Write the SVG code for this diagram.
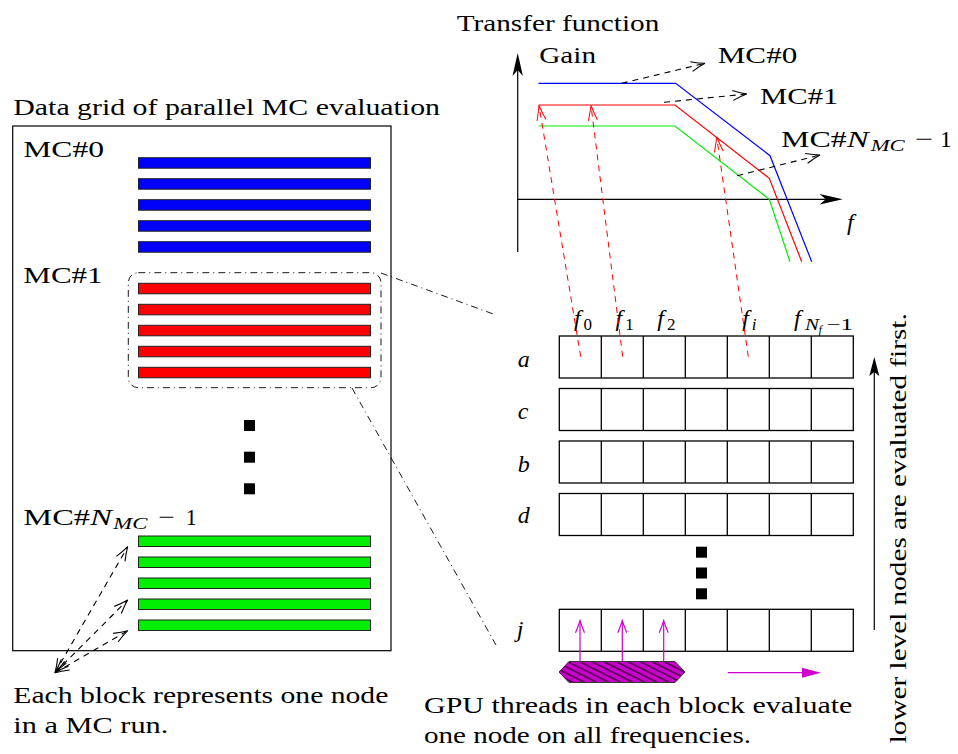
<svg xmlns="http://www.w3.org/2000/svg" width="958" height="754" viewBox="0 0 958 754">
<style>
  text { font-family: "Liberation Serif", "Times New Roman", serif; font-size: 24px; fill: #000; }
  .it { font-style: italic; }
  .sub { font-size: 17px; }
  .subsub { font-size: 12px; }
  .frame { fill: #fff; stroke: #000; stroke-width: 1.2; }
  .bar { stroke: #222; stroke-width: 1; }
  .blue { fill: #0000ff; }
  .red { fill: #ff0000; }
  .green { fill: #00ee00; }
  .cell { fill: #fff; stroke: #000; stroke-width: 1.3; }
  .dashdot { fill: none; stroke: #000; stroke-width: 0.9; stroke-dasharray: 7 4 1 4; }
  .dash-k { fill: none; stroke: #000; stroke-width: 1.1; stroke-dasharray: 6 5; }
  .dash-r { fill: none; stroke: #ff0000; stroke-width: 1; stroke-dasharray: 6 5; }
  .axis { fill: none; stroke: #000; stroke-width: 1.2; }
  .curve { fill: none; stroke-width: 1.2; }
  .dot { fill: #000; }
  .thread { fill: none; stroke: #d000d0; stroke-width: 1.2; }
</style>
<defs>
  <!-- open "to" style heads -->
  <marker id="toK" viewBox="-16 -7 18 14" markerWidth="18" markerHeight="14" refX="0" refY="0" orient="auto-start-reverse" markerUnits="userSpaceOnUse">
    <path d="M-14,-5 Q-6,-1.5 0,0 Q-6,1.5 -14,5" fill="none" stroke="#000" stroke-width="1.1"/>
  </marker>
  <marker id="toR" viewBox="-16 -7 18 14" markerWidth="18" markerHeight="14" refX="0" refY="0" orient="auto" markerUnits="userSpaceOnUse">
    <path d="M-15,-4.5 Q-6,-1.5 0,0 Q-6,1.5 -15,4.5" fill="none" stroke="#ff0000" stroke-width="1"/>
  </marker>
  <marker id="toM" viewBox="-16 -7 18 14" markerWidth="18" markerHeight="14" refX="0" refY="0" orient="auto" markerUnits="userSpaceOnUse">
    <path d="M-12,-4.5 Q-5,-1.5 0,0 Q-5,1.5 -12,4.5" fill="none" stroke="#d000d0" stroke-width="1.2"/>
  </marker>
  <!-- filled stealth head; line ends at the notch -->
  <marker id="stealth" viewBox="-25 -7 27 14" markerWidth="27" markerHeight="14" refX="-17" refY="0" orient="auto" markerUnits="userSpaceOnUse">
    <path d="M0,0 L-23,-5.2 L-17,0 L-23,5.2 Z" fill="#000"/>
  </marker>
  <marker id="stealthS" viewBox="-21 -7 23 14" markerWidth="23" markerHeight="14" refX="-15" refY="0" orient="auto" markerUnits="userSpaceOnUse">
    <path d="M0,0 L-19,-5 L-15,0 L-19,5 Z" fill="#000"/>
  </marker>
  <marker id="latexM" viewBox="-20 -7 22 14" markerWidth="22" markerHeight="14" refX="-18" refY="0" orient="auto" markerUnits="userSpaceOnUse">
    <path d="M0,0 L-19,-5 L-19,5 Z" fill="#d000d0"/>
  </marker>
  <pattern id="nwlines" patternUnits="userSpaceOnUse" width="10" height="5.4" patternTransform="rotate(26.6)">
    <line x1="0" y1="2.7" x2="10" y2="2.7" stroke="#000" stroke-width="1"/>
  </pattern>
  <!-- one row of seven frequency cells -->
  <g id="cells7">
    <rect class="cell" x="0" y="0" width="294" height="42"/>
    <path d="M42,0V42M84,0V42M126,0V42M168,0V42M210,0V42M252,0V42" fill="none" stroke="#000" stroke-width="1.3"/>
  </g>
</defs>

<rect width="958" height="754" fill="#fff"/>

<!-- transfer function plot -->
<g id="plot">
  <text x="456.7" y="30.7" textLength="202.6" lengthAdjust="spacingAndGlyphs">Transfer function</text>
  <text x="539.3" y="62.7" textLength="56.7" lengthAdjust="spacingAndGlyphs">Gain</text>
  <line class="axis" x1="517.7" y1="252" x2="517.7" y2="70" marker-end="url(#stealth)"/>
  <line class="axis" x1="517.7" y1="199.3" x2="825.7" y2="199.3" marker-end="url(#stealth)"/>
  <text class="it" x="847" y="230">f</text>
  <polyline class="curve" stroke="#0000ff" points="538.5,83.3 675.7,83.3 770,155.7 811.7,261.7"/>
  <polyline class="curve" stroke="#ff0000" points="538.5,105 675,105 769.3,178.3 801.7,261.7"/>
  <polyline class="curve" stroke="#00ee00" points="538.5,126 675,126 769.3,199.3 790,261.7"/>
  <text x="717.7" y="63.3" textLength="79.6" lengthAdjust="spacingAndGlyphs">MC#0</text>
  <text x="760" y="104.3" textLength="78.3" lengthAdjust="spacingAndGlyphs">MC#1</text>
  <text y="146.7"><tspan x="781" textLength="65.7" lengthAdjust="spacingAndGlyphs">MC#</tspan><tspan class="it" x="846.7" textLength="22" lengthAdjust="spacingAndGlyphs">N</tspan><tspan class="it sub" x="870.7" y="150.7" textLength="34" lengthAdjust="spacingAndGlyphs">MC</tspan><tspan x="915" y="146.7" textLength="18.3" lengthAdjust="spacingAndGlyphs">−</tspan><tspan x="940" textLength="11.7" lengthAdjust="spacingAndGlyphs">1</tspan></text>
</g>

<!-- data grid of the parallel MC runs -->
<g id="data-grid">
  <text x="13.3" y="115" textLength="426.7" lengthAdjust="spacingAndGlyphs">Data grid of parallel MC evaluation</text>
  <rect class="frame" x="12.7" y="126" width="378.3" height="524.7"/>
  <text x="23.3" y="156.7" textLength="80.7" lengthAdjust="spacingAndGlyphs">MC#0</text>
  <text x="23.3" y="283.3" textLength="79.3" lengthAdjust="spacingAndGlyphs">MC#1</text>
  <text y="525"><tspan x="23.3" textLength="66.7" lengthAdjust="spacingAndGlyphs">MC#</tspan><tspan class="it" x="90" textLength="22" lengthAdjust="spacingAndGlyphs">N</tspan><tspan class="it sub" x="113.3" y="528.5" textLength="34" lengthAdjust="spacingAndGlyphs">MC</tspan><tspan x="158.3" y="525" textLength="16.7" lengthAdjust="spacingAndGlyphs">−</tspan><tspan x="185.7" textLength="11" lengthAdjust="spacingAndGlyphs">1</tspan></text>
</g>
<g id="mc0-blocks">
  <rect class="bar blue" x="138.5" y="157.7" width="232" height="10.5"/>
  <rect class="bar blue" x="138.5" y="178.7" width="232" height="10.5"/>
  <rect class="bar blue" x="138.5" y="199.7" width="232" height="10.5"/>
  <rect class="bar blue" x="138.5" y="220.7" width="232" height="10.5"/>
  <rect class="bar blue" x="138.5" y="241.7" width="232" height="10.5"/>
</g>
<g id="mc1-blocks">
  <rect class="bar red" x="138.5" y="283.3" width="232" height="10.5"/>
  <rect class="bar red" x="138.5" y="304.3" width="232" height="10.5"/>
  <rect class="bar red" x="138.5" y="325.3" width="232" height="10.5"/>
  <rect class="bar red" x="138.5" y="346.3" width="232" height="10.5"/>
  <rect class="bar red" x="138.5" y="367.3" width="232" height="10.5"/>
  <rect class="dashdot" x="128.3" y="272.7" width="252.7" height="115" rx="10"/>
</g>
<g id="mc-dots">
  <rect class="dot" x="244" y="420" width="11" height="11"/>
  <rect class="dot" x="244" y="451.7" width="11" height="11"/>
  <rect class="dot" x="244" y="483.3" width="11" height="11"/>
</g>
<g id="mcN-blocks">
  <rect class="bar green" x="138.5" y="536" width="232" height="10.5"/>
  <rect class="bar green" x="138.5" y="557" width="232" height="10.5"/>
  <rect class="bar green" x="138.5" y="578" width="232" height="10.5"/>
  <rect class="bar green" x="138.5" y="599" width="232" height="10.5"/>
  <rect class="bar green" x="138.5" y="620" width="232" height="10.5"/>
</g>
<g id="block-note">
  <text x="13.3" y="702.7" textLength="375" lengthAdjust="spacingAndGlyphs">Each block represents one node</text>
  <text x="13.3" y="733.3" textLength="155" lengthAdjust="spacingAndGlyphs">in a MC run.</text>
</g>

<!-- node rows evaluated over all frequencies -->
<g id="freq-labels">
  <text y="326"><tspan class="it" x="574">f</tspan><tspan class="sub" x="583.5" y="330">0</tspan></text>
  <text y="326"><tspan class="it" x="615.6">f</tspan><tspan class="sub" x="625.2" y="330">1</tspan></text>
  <text y="326"><tspan class="it" x="657.3">f</tspan><tspan class="sub" x="667" y="330">2</tspan></text>
  <text y="326"><tspan class="it" x="742.3">f</tspan><tspan class="it sub" x="751.8" y="330">i</tspan></text>
  <text y="326"><tspan class="it" x="794">f</tspan><tspan class="it sub" x="805" y="330" textLength="14" lengthAdjust="spacingAndGlyphs">N</tspan><tspan class="it subsub" x="818.5" y="334">f</tspan><tspan class="sub" x="826.5" y="330" textLength="26.5" lengthAdjust="spacingAndGlyphs">−1</tspan></text>
</g>
<g id="node-a">
  <text class="it" x="517.7" y="367.3">a</text>
  <use href="#cells7" x="559.3" y="336"/>
</g>
<g id="node-c">
  <text class="it" x="517.7" y="419.3">c</text>
  <use href="#cells7" x="559.3" y="388.5"/>
</g>
<g id="node-b">
  <text class="it" x="517.7" y="471.7">b</text>
  <use href="#cells7" x="559.3" y="441"/>
</g>
<g id="node-d">
  <text class="it" x="517.7" y="523.3">d</text>
  <use href="#cells7" x="559.3" y="493.5"/>
</g>
<g id="node-dots">
  <rect class="dot" x="696" y="546.7" width="11" height="11"/>
  <rect class="dot" x="696" y="567.5" width="11" height="11"/>
  <rect class="dot" x="696" y="588.3" width="11" height="11"/>
</g>
<g id="node-j">
  <text class="it" x="516.7" y="636.7">j</text>
  <use href="#cells7" x="559.3" y="609.3"/>
</g>
<g id="gpu-threads">
  <polygon points="559,672 569,661.5 675,661.5 685,672 675,682.5 569,682.5" fill="#cc00cc"/>
  <polygon points="559,672 569,661.5 675,661.5 685,672 675,682.5 569,682.5" fill="url(#nwlines)" stroke="#333" stroke-width="1"/>
  <text x="424" y="713.3" textLength="428.3" lengthAdjust="spacingAndGlyphs">GPU threads in each block evaluate</text>
  <text x="424" y="743.3" textLength="327" lengthAdjust="spacingAndGlyphs">one node on all frequencies.</text>
</g>
<g id="eval-order">
  <line class="axis" x1="874.3" y1="630" x2="874.3" y2="372" marker-end="url(#stealthS)"/>
  <text transform="translate(906,743.3) rotate(-90)" textLength="430" lengthAdjust="spacingAndGlyphs">lower level nodes are evaluated first.</text>
</g>

<!-- connectors -->
<g id="connectors">
  <line class="dash-k" x1="621.7" y1="83.3" x2="705" y2="63.3" marker-end="url(#toK)"/>
  <line class="dash-k" x1="664" y1="102.3" x2="746.7" y2="94" marker-end="url(#toK)"/>
  <line class="dash-k" x1="737.3" y1="175.7" x2="820" y2="155" marker-end="url(#toK)"/>
  <line class="dash-r" x1="580.7" y1="356.7" x2="539" y2="105.5" marker-end="url(#toR)"/>
  <line class="dash-r" x1="622.7" y1="356.7" x2="591" y2="105.5" marker-end="url(#toR)"/>
  <line class="dash-r" x1="748.3" y1="356.7" x2="716.7" y2="137" marker-end="url(#toR)"/>
  <line class="dashdot" x1="381" y1="273" x2="496" y2="315"/>
  <line class="dashdot" x1="352" y1="388" x2="496" y2="645"/>
  <line class="dash-k" x1="55" y1="672.7" x2="127.7" y2="546.7" marker-start="url(#toK)" marker-end="url(#toK)"/>
  <line class="dash-k" x1="55" y1="672.7" x2="127.7" y2="600" marker-start="url(#toK)" marker-end="url(#toK)"/>
  <line class="dash-k" x1="55" y1="672.7" x2="127.7" y2="630.7" marker-start="url(#toK)" marker-end="url(#toK)"/>
  <line class="thread" x1="580" y1="661.5" x2="580" y2="620.7" marker-end="url(#toM)"/>
  <line class="thread" x1="622.3" y1="661.5" x2="622.3" y2="620.7" marker-end="url(#toM)"/>
  <line class="thread" x1="663.7" y1="661.5" x2="663.7" y2="620.7" marker-end="url(#toM)"/>
  <line class="thread" x1="727.7" y1="672.7" x2="803" y2="672.7" marker-end="url(#latexM)"/>
</g>
</svg>
